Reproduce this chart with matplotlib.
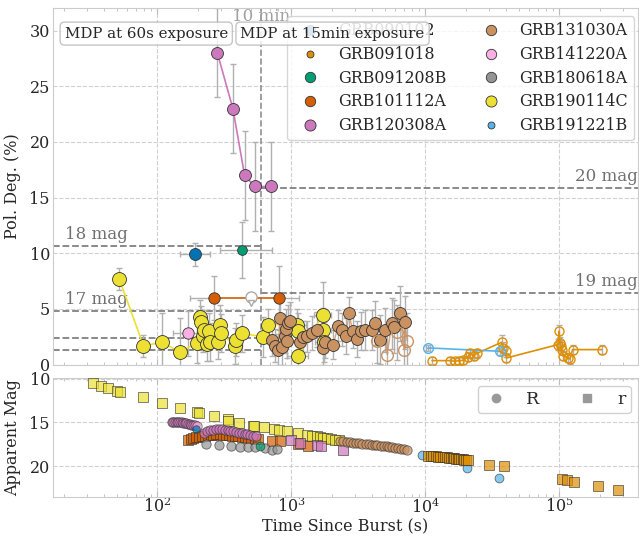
import numpy as np
import matplotlib
matplotlib.use('Agg')
import matplotlib.pyplot as plt
import seaborn as sns
from matplotlib.lines import Line2D

sns.set_style('whitegrid', {'grid.linestyle': '--'})
plt.rcParams['font.family'] = ['DejaVu Serif']
plt.rcParams['font.size'] = 11.5

pal = sns.color_palette('colorblind')
names = ['GRB090102', 'GRB091018', 'GRB091208B', 'GRB101112A', 'GRB120308A',
         'GRB131030A', 'GRB141220A', 'GRB180618A', 'GRB190114C', 'GRB191221B']
col = dict(zip(names, pal))

# ---------------- polarisation data ----------------
t_090102 = [191]
p_090102 = [9.9]
pe_090102 = [1.0]
te_090102 = [[43], [57]]

t_091208b = [429]
p_091208b = [10.3]
pe_091208b = [2.5]
te_091208b = [[135], [285]]

t_101112a = [265, 805]
p_101112a = [6.0, 6.0]
pe_101112a = [2.0, 2.9]
te_101112a = [[90, 40], [0, 330]]
t_101112a_ul = [500]
p_101112a_ul = [6.1]

t_120308a = [281, 367, 449, 533, 702]
p_120308a = [28, 23, 17, 16, 16]
pe_120308a = [4, 4, 4, 4, 4]
te_120308a = [20, 0, 0, 0, 0]

t_141220a = [169]
p_141220a = [2.8]
pe_141220a = [2.0]
te_141220a = [[38], [30]]

t_190114c = [52, 79, 108, 148, 199, 207, 211, 218, 222, 236, 243, 248, 284, 294, 300,
             382, 386, 433, 618, 673, 1100, 1117, 1130, 1734, 1740, 1750]
p_190114c = [7.7, 1.7, 2.0, 1.15, 1.95, 4.3, 3.8, 2.6, 3.1, 1.85, 3.0, 2.0, 2.0, 3.55, 2.85,
             1.65, 2.25, 2.8, 2.5, 3.6, 3.6, 3.0, 0.8, 4.5, 3.1, 2.0]
pe_190114c = [1.0, 1.0, 2.6, 3.0, 1.8, 1.5, 1.5, 1.5, 1.8, 1.5, 1.6, 1.7, 1.5, 1.8, 1.7,
              1.6, 1.5, 1.7, 1.8, 1.4, 1.4, 1.6, 1.2, 2.9, 2.0, 1.8]
te_190114c = [3, 5, 8, 10, 10, 8, 8, 8, 10, 10, 10, 10, 15, 15, 15,
              20, 20, 20, 30, 30, 200, 200, 200, 250, 250, 250]

t_131030a = [714, 755, 800, 824, 858, 897, 912, 933, 950, 977, 1162, 1230, 1316, 1420, 1548,
             1735, 1785, 2058, 2243, 2377, 2547, 2710, 2871, 3109, 3296, 3547, 3981, 4216,
             4597, 5012, 5623, 5840, 6460, 7055]
p_131030a = [2.25, 1.7, 1.35, 4.2, 1.6, 2.55, 3.2, 2.1, 3.75, 3.9, 2.0, 2.5, 2.55, 2.85, 3.15,
             1.45, 2.0, 1.8, 3.5, 3.15, 2.55, 4.6, 3.0, 2.3, 3.0, 3.15, 3.1, 3.75,
             2.25, 3.1, 3.7, 3.4, 4.6, 3.8]
pe_131030a = [1.5, 1.5, 1.4, 2.2, 1.6, 1.5, 1.8, 1.5, 1.6, 1.7, 1.3, 1.4, 1.4, 1.5, 1.6,
              1.5, 1.4, 1.3, 1.4, 1.5, 1.6, 1.5, 1.5, 1.6, 1.7, 1.8, 1.8, 2.0,
              2.2, 2.0, 2.3, 2.4, 2.5, 2.4]
t_131030a_open = [4340, 5210, 6120, 6950, 7345]
p_131030a_open = [2.15, 0.9, 2.9, 1.35, 2.15]
pe_131030a_open = [2.0, 2.5, 2.5, 3.0, 2.5]

t_091018 = [11270, 15280, 16660, 17950, 19230, 20950, 21560, 23090, 24180, 37150, 38200,
            40000, 40420, 98000, 100000, 101000, 102400, 104200, 106000, 116700, 120200,
            125900, 207000]
p_091018 = [0.36, 0.36, 0.3, 0.36, 0.39, 0.7, 1.0, 0.8, 1.0, 2.0, 1.5,
            1.2, 0.6, 1.8, 3.0, 1.95, 1.7, 1.35, 0.8, 0.6, 0.5,
            1.35, 1.35]
pe_091018 = [0.3, 0.3, 0.3, 0.3, 0.3, 0.4, 0.4, 0.4, 0.4, 0.7, 0.5,
             0.5, 0.4, 0.5, 0.6, 0.5, 0.5, 0.5, 0.4, 0.4, 0.4,
             0.4, 0.4]

t_191221b = [10520, 36060]
p_191221b = [1.5, 1.2]
pe_191221b = [0.3, 0.3]
te_191221b = [400, 1500]

# MDP levels
mdp60_lvl = [10.66, 4.86, 2.4, 1.29]
mdp60_lab = ['18 mag', '17 mag', '', '']
mdp15_lvl = [15.9, 6.46]
mdp15_lab = ['20 mag', '19 mag']
t_split = 600

# ---------------- light curve data ----------------
tm_190114c = [33, 38, 43, 50, 53, 79, 109, 149, 199, 205, 266, 335, 340, 409, 515, 530, 630,
              744, 813, 933, 1117, 1318, 1420, 1550, 1650, 1734, 1860, 1995, 2140, 2280]
m_190114c = [10.5, 10.8, 11.1, 11.35, 11.5, 12.1, 12.75, 13.3, 13.8, 13.9, 14.3, 14.65, 14.8,
             15.1, 15.35, 15.45, 15.55, 15.8, 15.9, 16.0, 16.2, 16.4, 16.5, 16.6, 16.65,
             16.75, 16.8, 16.9, 16.95, 17.0]

tm_120308a_R = [128, 132, 136, 140, 144, 148, 152, 156, 160, 165, 170, 175, 180, 185, 190,
                222, 235, 248, 262, 276, 290, 305, 320, 336, 352, 370, 390, 410, 430, 450,
                470, 495, 520, 545]
m_120308a_R = [14.95, 14.9, 14.95, 14.9, 14.95, 15.0, 15.0, 15.05, 15.1, 15.1, 15.15, 15.2,
               15.25, 15.25, 15.3,
               16.2, 16.0, 15.9, 15.85, 15.8, 15.8, 15.8, 15.85, 15.9, 15.95, 16.0, 16.05,
               16.15, 16.2, 16.3, 16.35, 16.4, 16.5, 16.55]
tm_120308a_r = [1000, 1160, 1550, 1680, 2420]
m_120308a_r = [16.95, 17.3, 17.6, 17.65, 18.1]

tm_141220a = [198]
m_141220a = [15.4]

tm_090102 = [195]
m_090102 = [15.7]

tm_101112a = [170, 178, 186, 195, 205, 215, 226, 238, 250, 263, 277, 292, 308, 325, 343,
              362, 382, 404, 427, 451, 477, 505, 535, 565, 714, 824, 1127, 1338]
m_101112a = [17.0, 16.9, 16.8, 16.7, 16.65, 16.55, 16.5, 16.45, 16.4, 16.4, 16.35, 16.35,
             16.4, 16.4, 16.45, 16.5, 16.55, 16.6, 16.65, 16.7, 16.75, 16.8, 16.85, 16.9,
             17.1, 17.15, 17.5, 17.7]

tm_180618a = [233, 290, 353, 415, 477, 535, 636, 715, 780]
m_180618a = [17.5, 17.6, 17.7, 17.8, 17.8, 17.8, 17.9, 18.2, 18.0]

tm_091208b = [585]
m_091208b = [17.7]

tm_131030a = [2300, 2450, 2600, 2750, 2900, 3050, 3200, 3400, 3600, 3800, 4000, 4200, 4400,
              4650, 4900, 5150, 5400, 5700, 6000, 6300, 6650, 7000, 7350]
m_131030a = [17.1, 17.15, 17.2, 17.25, 17.3, 17.35, 17.4, 17.45, 17.5, 17.5, 17.55, 17.6,
             17.6, 17.65, 17.7, 17.75, 17.8, 17.85, 17.9, 17.95, 18.0, 18.05, 18.1]

tm_191221b = [9400, 20400, 35660]
m_191221b = [18.7, 20.2, 21.35]

tm_091018 = [10500, 11000, 11500, 12000, 12500, 13000, 13500, 14000, 14500, 15000, 15500,
             16000, 16500, 17000, 17500, 18000, 18500, 19000, 19500, 20000, 21000,
             30060, 39080, 104200, 113600, 128800, 193600, 275800]
m_091018 = [18.8, 18.82, 18.85, 18.88, 18.9, 18.93, 18.95, 18.98, 19.0, 19.03, 19.05,
            19.08, 19.1, 19.13, 19.15, 19.18, 19.2, 19.23, 19.25, 19.28, 19.3,
            19.85, 20.0, 21.45, 21.55, 21.85, 22.3, 22.75]

# ---------------- figure ----------------
fig, (ax, ax2) = plt.subplots(2, 1, sharex=True, figsize=(6.39, 5.36), dpi=100,
                              gridspec_kw={'height_ratios': [3.0, 1.0]})
fig.subplots_adjust(left=0.0825, right=0.999, top=0.9845, bottom=0.0733, hspace=0.056)

ecol = '#b0b0b0'
ekw = dict(fmt='none', ecolor=ecol, elinewidth=1, capsize=2, zorder=2)


def pol(t, p, pe, c, ms, te=None, line=True, lw=1.2):
    ax.errorbar(t, p, yerr=pe, xerr=te, **ekw)
    if line:
        ax.plot(t, p, '-', color=c, lw=lw, zorder=3)
    ax.plot(t, p, 'o', ms=ms, mfc=c, mec='#333333', mew=0.6, ls='none', zorder=4)


def pol_open(t, p, pe, c, ms, te=None, line=True):
    ax.errorbar(t, p, yerr=pe, xerr=te, **ekw)
    if line:
        ax.plot(t, p, '-', color=c, lw=1.2, zorder=3)
    ax.plot(t, p, 'o', ms=ms, mfc='none', mec=c, mew=1.0, ls='none', zorder=4)


# MDP lines
for lv, lb in zip(mdp60_lvl, mdp60_lab):
    ax.plot([16.6, t_split], [lv, lv], '--', color='#808080', lw=1.3, zorder=1)
    if lb:
        ax.text(20.5, lv + 0.25, lb, color='#707070', fontsize=12, va='bottom', zorder=1)
for lv, lb in zip(mdp15_lvl, mdp15_lab):
    ax.plot([t_split, 3.9e5], [lv, lv], '--', color='#808080', lw=1.3, zorder=1)
    ax.text(3.85e5, lv + 0.25, lb, color='#707070', fontsize=12, va='bottom', ha='right',
            zorder=1)
ax.axvline(t_split, color='#909090', ls='--', lw=1.2, zorder=1)
ax.text(t_split, 31.3, '10 min', color='#a0a0a0', fontsize=12, ha='center', va='center',
        zorder=1)

pol(t_190114c, p_190114c, pe_190114c, col['GRB190114C'], 10, te=te_190114c)
pol(t_120308a, p_120308a, pe_120308a, col['GRB120308A'], 8.6, te=te_120308a)
pol(t_090102, p_090102, pe_090102, col['GRB090102'], 8.6, te=te_090102, line=False)
pol(t_091208b, p_091208b, pe_091208b, col['GRB091208B'], 7, te=te_091208b, line=False)
pol(t_101112a, p_101112a, pe_101112a, col['GRB101112A'], 8.2, te=te_101112a)
pol(t_141220a, p_141220a, pe_141220a, col['GRB141220A'], 8.2, te=te_141220a, line=False)
ax.plot(t_101112a_ul, p_101112a_ul, 'o', ms=8, mfc='white', mec='#aaaaaa', mew=1, zorder=4)
ax.plot(t_101112a_ul, [p - 0.6 for p in p_101112a_ul], 'v', ms=5, mfc='white', mec='#aaaaaa',
        zorder=4)

# GRB131030A: all points joined in time order
tb = np.array(t_131030a + t_131030a_open)
pb = np.array(p_131030a + p_131030a_open)
o = np.argsort(tb)
ax.plot(tb[o], pb[o], '-', color=col['GRB131030A'], lw=1, alpha=0.8, zorder=3)
pol(t_131030a, p_131030a, pe_131030a, col['GRB131030A'], 8.6, line=False)
pol_open(t_131030a_open, p_131030a_open, pe_131030a_open, col['GRB131030A'], 8.4, line=False)

pol_open(t_091018, p_091018, pe_091018, col['GRB091018'], 6.5)
pol_open(t_191221b, p_191221b, pe_191221b, col['GRB191221B'], 7, te=te_191221b)

ax.set_xscale('log')
ax.set_xlim(16.6, 3.9e5)
ax.set_ylim(0, 32)
ax.set_yticks([0, 5, 10, 15, 20, 25, 30])
ax.set_ylabel('Pol. Deg. (%)', labelpad=6)

# legend
msz = [7.5, 5, 7.5, 7.5, 8, 7.5, 7.5, 7.5, 8, 5]
handles = [Line2D([], [], marker='o', ls='none', ms=s, mfc=col[n], mec='#333333', mew=0.6)
           for n, s in zip(names, msz)]
leg = ax.legend(handles, names, ncol=2, loc='upper right', bbox_to_anchor=(0.993, 0.978),
                borderaxespad=0, fontsize=11.4, labelspacing=0.42, handletextpad=0.8,
                columnspacing=1.8, framealpha=0.8)
leg.set_zorder(5)

bbox = dict(boxstyle='round,pad=0.3', fc='white', ec='#bbbbbb', alpha=0.85)
ax.text(0.0203, 0.929, 'MDP at 60s exposure', transform=ax.transAxes, fontsize=10.8,
        va='center', bbox=bbox, zorder=6)
ax.text(0.3205, 0.929, 'MDP at 15min exposure', transform=ax.transAxes, fontsize=10.8,
        va='center', bbox=bbox, zorder=6)

# ---------------- light curves ----------------
skw = dict(alpha=0.7, edgecolors='#333333', linewidths=0.6, zorder=3)
ax2.scatter(tm_190114c, m_190114c, marker='s', s=42, color=col['GRB190114C'], **skw)
ax2.scatter(tm_101112a, m_101112a, marker='s', s=42, color=col['GRB101112A'], **skw)
ax2.scatter(tm_120308a_R, m_120308a_R, marker='o', s=45, color=col['GRB120308A'], **skw)
ax2.scatter(tm_120308a_r, m_120308a_r, marker='s', s=42, color=col['GRB120308A'], **skw)
ax2.scatter(tm_141220a, m_141220a, marker='o', s=45, color=col['GRB141220A'], **skw)
ax2.scatter(tm_090102, m_090102, marker='o', s=30, color=col['GRB090102'], **skw)
ax2.scatter(tm_180618a, m_180618a, marker='o', s=45, color=col['GRB180618A'], **skw)
ax2.scatter(tm_091208b, m_091208b, marker='o', s=40, color=col['GRB091208B'], **skw)
ax2.scatter(tm_131030a, m_131030a, marker='o', s=45, color=col['GRB131030A'], **skw)
ax2.scatter(tm_191221b, m_191221b, marker='o', s=40, color=col['GRB191221B'], **skw)
ax2.scatter(tm_091018, m_091018, marker='s', s=42, color=col['GRB091018'], **skw)

ax2.set_ylim(23.5, 9.9)
ax2.set_yticks([10, 15, 20])
ax2.set_ylabel('Apparent Mag', labelpad=6)
ax2.set_xlabel('Time Since Burst (s)', labelpad=1)
h2 = [Line2D([], [], marker='o', ls='none', ms=6, color='#999999'),
      Line2D([], [], marker='s', ls='none', ms=6, color='#999999')]
ax2.legend(h2, ['R', 'r'], ncol=2, loc='upper right', fontsize=12.5, handlelength=1.5,
           handletextpad=1.0, columnspacing=1.95, borderaxespad=0.45, borderpad=0.3,
           framealpha=0.9)

for a in (ax, ax2):
    a.tick_params(which='both', direction='in', top=True, bottom=True, color='#bbbbbb')
    a.tick_params(axis='x', pad=0.5)
    a.tick_params(axis='y', pad=2)
    a.tick_params(which='major', length=4)
    a.tick_params(which='minor', length=2.5)
    a.grid(True, which='major', ls='--', color='#d0d0d0')

fig.savefig('out.png', dpi=100)
